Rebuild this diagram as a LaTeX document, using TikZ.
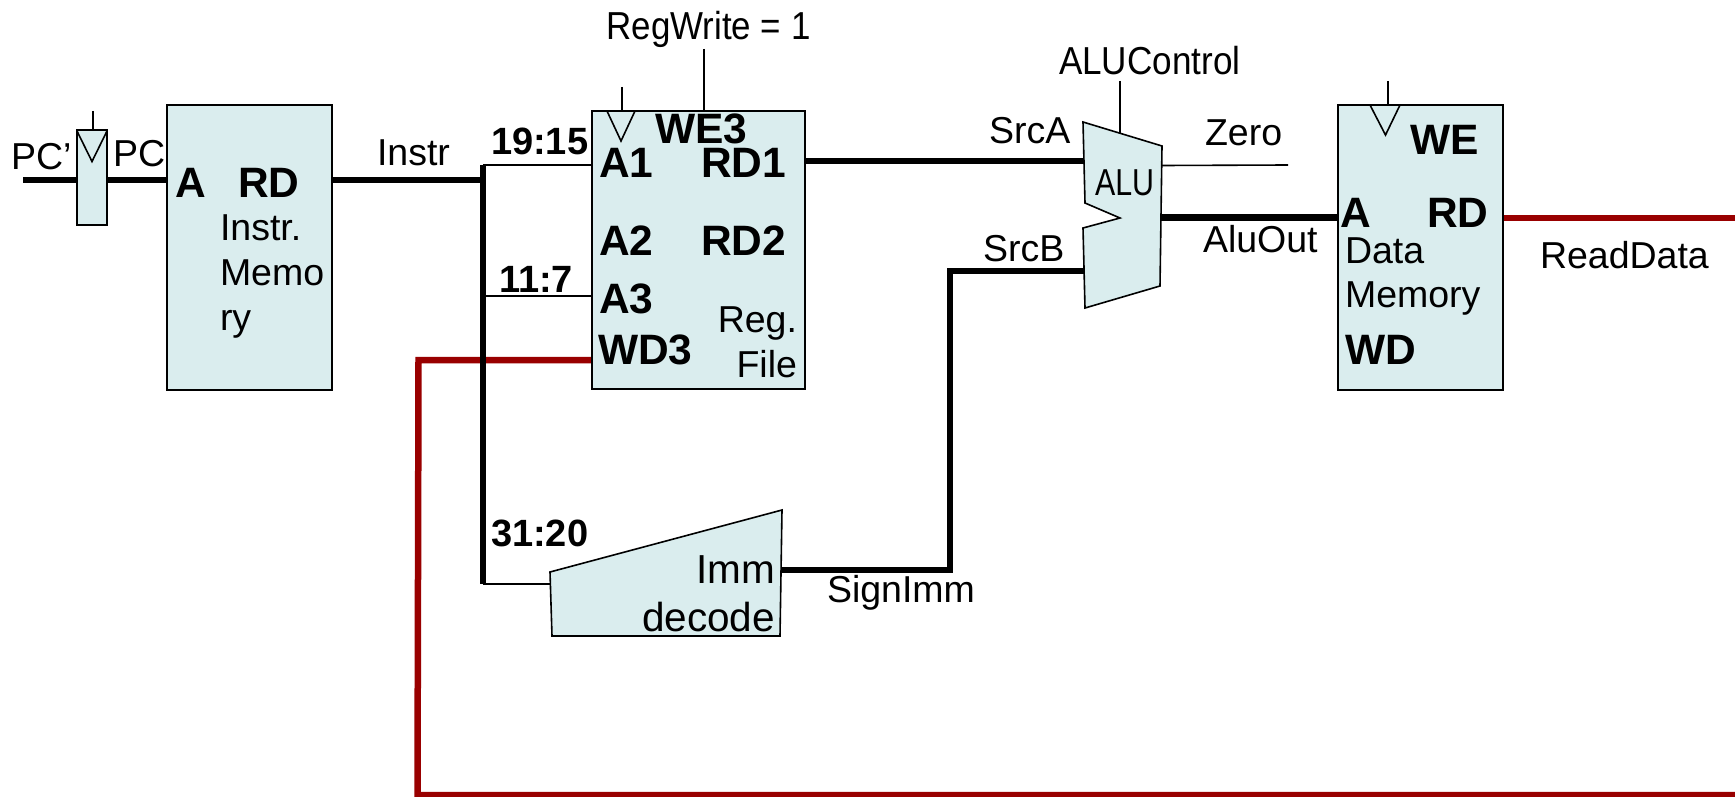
\documentclass[tikz,border=0pt]{standalone}
\usepackage{fontspec}
\usepackage{graphicx}
\setmainfont{Liberation Sans}
\definecolor{boxfill}{HTML}{DAEDEE}
\definecolor{darkred}{HTML}{990000}
\newcommand{\reg}{\fontsize{37.5}{37.5}\selectfont}
\newcommand{\bld}{\fontsize{42.5}{42.5}\selectfont\bfseries}
\newcommand{\bldsm}{\fontsize{38}{38}\selectfont\bfseries}
\tikzset{
  x=1pt,y=-1pt,
  lbl/.style={anchor=base west,inner sep=0pt,outer sep=0pt,font=\reg},
  lblr/.style={anchor=base east,inner sep=0pt,outer sep=0pt,font=\reg},
  pinb/.style={lbl,font=\bld},
  bitlbl/.style={lbl,font=\bldsm},
  block/.style={draw=black,fill=boxfill,line width=1.6pt,inner sep=0pt,outer sep=0pt,rectangle},
  outline/.style={draw=black,fill=boxfill,line width=1.6pt,line join=miter},
  clock/.style={draw=black,line width=1.6pt,line join=miter},
  thin wire/.style={draw=black,line width=1.6pt},
  thick wire/.style={draw=black,line width=6.5pt,line join=miter},
  red wire/.style={draw=darkred,line width=6.5pt,line join=miter},
}
\begin{document}
\begin{tikzpicture}
\useasboundingbox (0,0) rectangle (1735,797);
% named points
\coordinate (pcin) at (23,180);
\coordinate (bustop) at (483,165);
\coordinate (busin) at (483,180);
\coordinate (busmid) at (483,296);
\coordinate (busbot) at (483,584);
\coordinate (redbr) at (1735,795);
\coordinate (redbl) at (417.5,795);
\coordinate (redtl) at (418.5,360);
\coordinate (rdout) at (1735,218);
\coordinate (zeroend) at (1288,165);
\coordinate (immcorner) at (950,570);
\coordinate (srcbcorner) at (950,271);
\coordinate (immtl) at (550,572);
\coordinate (immtr) at (782,510);
\coordinate (immbr) at (780,636);
\coordinate (immbl) at (552,636);
\coordinate (ctl) at (1120,81);
\coordinate (regw) at (704,49);
\coordinate (rfck) at (622,87);
\coordinate (dmck) at (1388,81);
\coordinate (pcck) at (93,111);
% blocks are placed first as invisible anchors
\path (92,177.5) node[minimum width=30pt,minimum height=95pt,inner sep=0pt,outer sep=0pt] (pcreg) {};
\path (249.5,247.5) node[minimum width=165pt,minimum height=285pt,inner sep=0pt,outer sep=0pt] (imem) {};
\path (698.5,250) node[minimum width=213pt,minimum height=278.5pt,inner sep=0pt,outer sep=0pt] (rf) {};
\path (1420.5,247.5) node[minimum width=165.5pt,minimum height=285pt,inner sep=0pt,outer sep=0pt] (dmem) {};
\coordinate (alua) at (1084,161);
\coordinate (alub) at (1084,271);
\coordinate (aluo) at (1161,217.5);
\coordinate (aluz) at (1162,165.5);
\coordinate (alut) at (1120,133);
% connectors: red
\draw[red wire] (rf.west |- redtl) -- (redtl) -- (redbl) -- (redbr);
\draw[red wire] (dmem.east |- rdout) -- (rdout);
% connectors: black
\draw[thick wire] (pcin) -- (imem.west |- pcin);
\draw[thick wire] (imem.east |- busin) -- (busin);
\draw[thick wire] (bustop) -- (busbot);
\draw[thin wire] (bustop) -- (rf.west |- bustop);
\draw[thin wire] (busmid) -- (rf.west |- busmid);
\draw[thin wire] (busbot) -- (immtl |- busbot);
\draw[thick wire] (rf.east |- alua) -- (alua);
\draw[thick wire] (immtr |- immcorner) -- (immcorner) -- (srcbcorner) -- (alub);
\draw[thick wire] (aluo) -- (dmem.west |- aluo);
\draw[thin wire] (aluz) -- (zeroend);
\draw[thin wire] (ctl) -- (alut);
\draw[thin wire] (regw) -- (regw |- rf.north);
\draw[thin wire] (rfck) -- (rfck |- rf.north);
\draw[thin wire] (dmck) -- (dmck |- dmem.north);
\draw[thin wire] (pcck) -- (pcck |- pcreg.north);
% block bodies
\node[block,minimum width=30pt,minimum height=95pt] (pcregb) at (pcreg) {};
\node[block,minimum width=165pt,minimum height=285pt] (imemb) at (imem) {};
\node[block,minimum width=213pt,minimum height=278.5pt] (rfb) at (rf) {};
\node[block,minimum width=165.5pt,minimum height=285pt] (dmemb) at (dmem) {};
\draw[outline] (immtl) -- (immtr) -- (immbr) -- (immbl) -- cycle;
\draw[outline] (1083,122) -- (1162,146) -- (1160,286) -- (1085,308) -- (1083,228) -- (1120,218) -- (1085,203) -- cycle;
% clock triangles
\draw[clock] (77,131) -- (92,161.5) -- (107,131);
\draw[clock] (607,111) -- (621,141) -- (635,111);
\draw[clock] (1370,105) -- (1385.5,135) -- (1400,105);
% labels
\node[lbl] (lpcp) at (11,170) {PC’};
\node[lbl] (lpc) at (113,167) {PC};
\node[pinb] (ima) at (175,197) {A};
\node[pinb] (imrd) at (238,197) {RD};
\node[lbl] (im1) at (220,240) {Instr.};
\node[lbl] (im2) at (220,285) {Memo};
\node[lbl] (im3) at (220,330) {ry};
\node[lbl] (linstr) at (377,165) {Instr};
\node[bitlbl] (l1915) at (491,155) {19:15};
\node[bitlbl] (l117) at (499,292) {11:7};
\node[bitlbl] (l3120) at (491,546) {31:20};
\node[lbl] (lregw) at (606.5,40) {\scalebox{.895}[1]{\fontsize{39}{39}\selectfont RegWrite = 1}};
\node[pinb] (lwe3) at (655,143) {WE3};
\node[pinb] (la1) at (599,178) {A1};
\node[pinb] (lrd1) at (701,178) {RD1};
\node[pinb] (la2) at (599,255) {A2};
\node[pinb] (lrd2) at (701,255) {RD2};
\node[pinb] (la3) at (599,313) {A3};
\node[pinb] (lwd3) at (598,364) {WD3};
\node[lblr] (lreg) at (797,332) {Reg.};
\node[lblr] (lfile) at (797,377) {File};
\node[lblr,font=\fontsize{40.5}{40.5}\selectfont] (limm) at (775,583) {Imm};
\node[lblr,font=\fontsize{40.5}{40.5}\selectfont] (ldec) at (775,631) {decode};
\node[lbl] (lsimm) at (827,602) {SignImm};
\node[lbl] (lsrca) at (989,143.5) {SrcA};
\node[lbl] (lsrcb) at (983,261) {SrcB};
\node[lbl] (lalu) at (1095,195) {\scalebox{.81}[1]{ALU}};
\node[lbl] (lctl) at (1059,74.5) {\scalebox{.9}[1]{\fontsize{39}{39}\selectfont ALUControl}};
\node[lbl] (lzero) at (1205,146) {Zero};
\node[lbl] (laluo) at (1203,252) {AluOut};
\node[pinb] (dwe) at (1410,155) {WE};
\node[pinb] (da) at (1340,227) {A};
\node[pinb] (drd) at (1427,227) {RD};
\node[lbl] (dd1) at (1345,263) {Data};
\node[lbl] (dd2) at (1345,307) {Memory};
\node[pinb] (dwd) at (1345,364) {WD};
\node[lbl] (lread) at (1540,268) {ReadData};
\end{tikzpicture}
\end{document}
